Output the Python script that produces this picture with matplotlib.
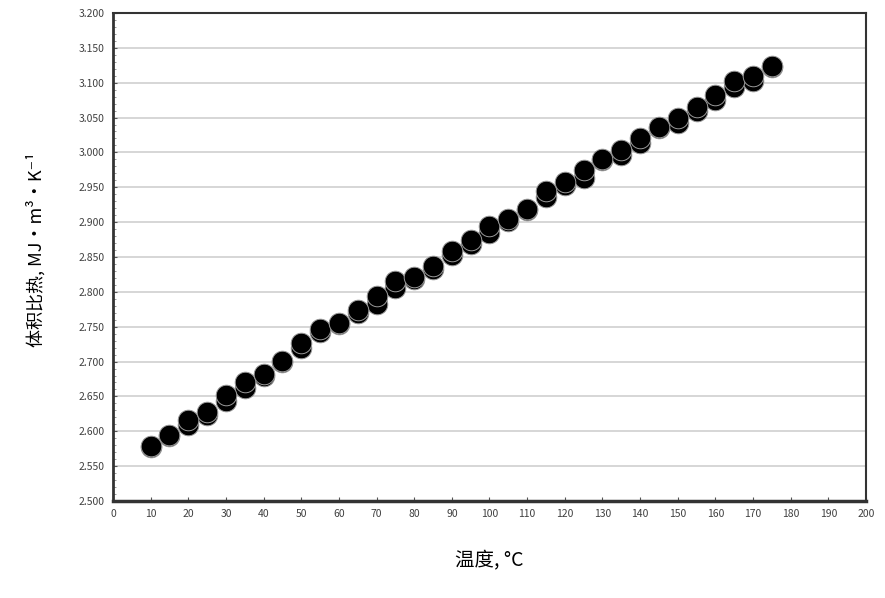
import matplotlib.pyplot as plt
import numpy as np

plt.rcParams['font.family'] = ['Noto Sans CJK SC', 'DejaVu Sans']

temps = [10, 15, 20, 25, 30, 35, 40, 45, 50, 55, 60, 65, 70, 75, 80, 85,
         90, 95, 100, 105, 110, 115, 120, 125, 130, 135, 140, 145, 150,
         155, 160, 165, 170, 175]
run_a = [2.577, 2.593, 2.609, 2.623, 2.643, 2.662, 2.679, 2.699, 2.719,
         2.742, 2.754, 2.770, 2.782, 2.805, 2.819, 2.833, 2.853, 2.868,
         2.885, 2.901, 2.917, 2.936, 2.953, 2.964, 2.989, 2.997, 3.013,
         3.035, 3.042, 3.059, 3.075, 3.094, 3.102, 3.122]
run_b = [2.579, 2.595, 2.616, 2.627, 2.652, 2.671, 2.682, 2.701, 2.727,
         2.746, 2.756, 2.774, 2.794, 2.815, 2.821, 2.837, 2.859, 2.874,
         2.894, 2.904, 2.919, 2.945, 2.957, 2.975, 2.990, 3.003, 3.020,
         3.037, 3.049, 3.065, 3.083, 3.102, 3.110, 3.124]

fig = plt.figure(figsize=(8.85, 5.98), dpi=100)
ax = fig.add_axes([0.1277, 0.1622, 0.8508, 0.8161])

ax.scatter(temps, run_a, s=220, c='black', edgecolors='#999999',
           linewidths=0.7, zorder=3)
ax.scatter(temps, run_b, s=220, c='black', edgecolors='#999999',
           linewidths=0.7, zorder=4)

ax.set_xlim(0, 200)
ax.set_ylim(2.5, 3.2)
ax.set_xticks(np.arange(0, 201, 10))
ax.set_yticks(np.arange(2.5, 3.2001, 0.05))
ax.set_yticks(np.arange(2.5, 3.2001, 0.01), minor=True)
ax.yaxis.set_major_formatter(plt.FormatStrFormatter('%.3f'))

ax.grid(True, axis='y', which='major', color='#d0d0d0', linewidth=1.2)
ax.set_axisbelow(True)

for side in ax.spines.values():
    side.set_color('#333333')
    side.set_linewidth(1.5)
ax.spines['left'].set_linewidth(2)
ax.spines['bottom'].set_linewidth(2.5)

ax.tick_params(axis='both', which='major', direction='in', length=3,
               color='#555555', labelsize=7.5, labelcolor='#404040', pad=6)
ax.tick_params(axis='y', which='minor', direction='in', length=2,
               color='#888888')

ax.set_xlabel('温度, °C', fontsize=14, labelpad=22)
ax.set_ylabel('体积比热, MJ•m³•K⁻¹', fontsize=13)
ax.yaxis.set_label_coords(-0.09, 0.515)

fig.savefig('out.png', dpi=100)
